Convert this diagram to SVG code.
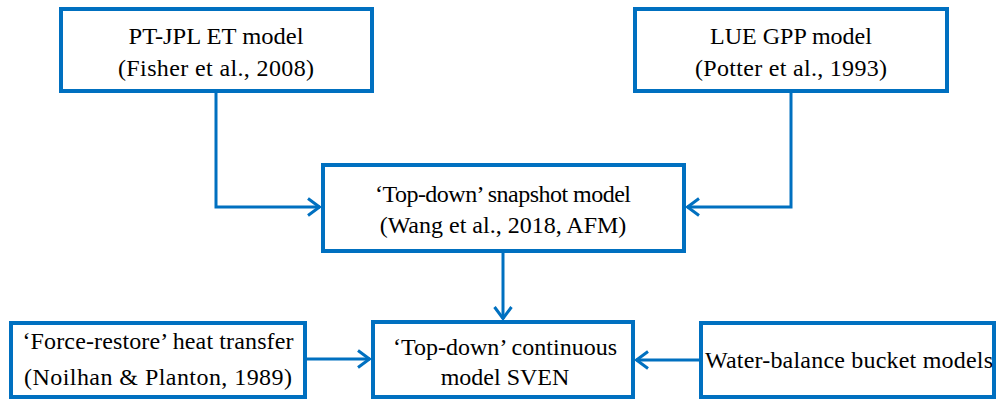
<svg xmlns="http://www.w3.org/2000/svg" width="997" height="401" viewBox="0 0 997 401">
<style>
.box{fill:#ffffff;stroke:#0070C0;stroke-width:4;}
.t{font-size:24px;fill:#000;text-anchor:middle;}
.c{fill:none;stroke:#0070C0;stroke-width:3;}
</style>
<defs>
<marker id="ah" viewBox="0 0 14 20" refX="13" refY="10" markerWidth="14" markerHeight="20" markerUnits="userSpaceOnUse" orient="auto">
<path d="M1,1.5 L12.5,10 L1,18.5" fill="none" stroke="#0070C0" stroke-width="3"/>
</marker>
</defs>
<rect width="997" height="401" fill="#ffffff"/>
<g id="connectors">
<path class="c" d="M216,93 V207 H320" marker-end="url(#ah)"/>
<path class="c" d="M791,93 V207 H687" marker-end="url(#ah)"/>
<path class="c" d="M503,253 V319" marker-end="url(#ah)"/>
<path class="c" d="M307,359 H370" marker-end="url(#ah)"/>
<path class="c" d="M699,360 H636" marker-end="url(#ah)"/>
</g>
<g font-family="Liberation Serif">
<g id="ptjpl">
<rect class="box" x="61" y="9" width="311" height="82"/>
<text class="t" font-family="Liberation Serif" x="216" y="44" textLength="175" lengthAdjust="spacingAndGlyphs">PT-JPL ET model</text>
<text class="t" font-family="Liberation Serif" x="216" y="76" textLength="196" lengthAdjust="spacing">(Fisher et al., 2008)</text>
</g>
<g id="lue">
<rect class="box" x="635" y="9" width="312" height="82"/>
<text class="t" font-family="Liberation Serif" x="791" y="44">LUE GPP model</text>
<text class="t" font-family="Liberation Serif" x="791" y="76" textLength="192" lengthAdjust="spacing">(Potter et al., 1993)</text>
</g>
<g id="snapshot">
<rect class="box" x="323" y="165" width="361" height="86"/>
<text class="t" font-family="Liberation Serif" x="503" y="202" textLength="256" lengthAdjust="spacing">‘Top-down’ snapshot model</text>
<text class="t" font-family="Liberation Serif" x="503" y="233">(Wang et al., 2018, AFM)</text>
</g>
<g id="forcerestore">
<rect class="box" x="11" y="323" width="294" height="74"/>
<text class="t" font-family="Liberation Serif" x="158" y="349" textLength="271" lengthAdjust="spacing">‘Force-restore’ heat transfer</text>
<text class="t" font-family="Liberation Serif" x="158" y="385" textLength="268" lengthAdjust="spacing">(Noilhan &amp; Planton, 1989)</text>
</g>
<g id="sven">
<rect class="box" x="373" y="322" width="260" height="75"/>
<text class="t" font-family="Liberation Serif" x="505" y="355" textLength="224" lengthAdjust="spacing">‘Top-down’ continuous</text>
<text class="t" font-family="Liberation Serif" x="505" y="385">model SVEN</text>
</g>
<g id="bucket">
<rect class="box" x="701" y="323" width="293" height="74"/>
<text class="t" font-family="Liberation Serif" x="849" y="368" textLength="288" lengthAdjust="spacing">Water-balance bucket models</text>
</g>
</g>
</svg>
